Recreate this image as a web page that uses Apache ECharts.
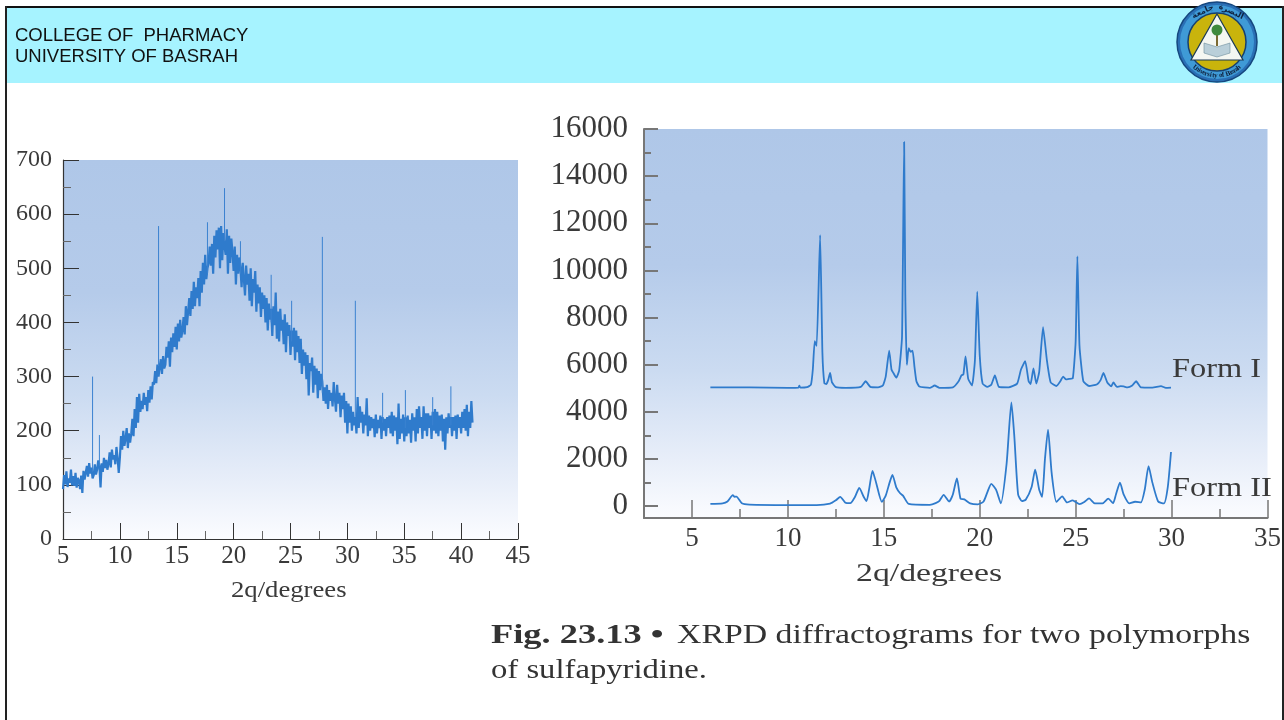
<!DOCTYPE html>
<html><head><meta charset="utf-8">
<style>html,body{margin:0;padding:0;background:#fff}#c{width:1284px;height:720px}</style>
<script src="https://cdn.jsdelivr.net/npm/echarts@6/dist/echarts.min.js"></script>
</head><body><div id="c"></div>
<script>
// Amorphous trace, one reading every 0.1 degree from 5.0 to 41.0 (noise band without the sharp spikes)
const amorphousStart = 5, amorphousStep = 0.1;
const amorphousY = [
92,118,101,125,96,112,104,128,99,116,
98,122,95,113,108,92,117,85,126,110,
108,135,115,140,121,132,112,118,138,119,
128,145,135,95,140,124,150,131,146,128,
139,160,132,165,147,155,138,170,150,122,
150,190,165,200,172,185,205,168,195,178,
195,222,190,240,205,262,215,268,235,255,
240,270,248,262,236,275,252,282,258,290,
285,310,288,322,300,318,332,305,338,315,
322,355,335,365,318,372,345,380,355,392,
350,398,365,405,372,385,410,378,430,395,
395,445,412,458,425,475,430,465,445,482,
430,495,455,510,470,525,480,500,510,540,
505,545,490,560,520,570,535,575,500,578,
515,565,540,525,572,490,560,510,555,530,
495,540,470,525,490,520,500,465,510,480,
450,505,470,490,440,500,430,480,455,495,
420,470,435,465,410,455,425,450,400,445,
385,435,405,425,375,430,395,455,370,420,
365,425,385,405,360,415,345,400,375,395,
340,385,355,390,330,385,345,375,325,370,
305,350,320,345,295,340,265,325,310,335,
270,320,285,315,260,310,275,305,290,255,
280,250,285,240,275,255,270,245,290,260,
235,285,250,270,225,265,240,270,215,255,
195,250,215,245,200,235,210,225,195,262,
205,245,215,235,195,230,210,260,190,228,
200,225,205,222,188,230,195,220,205,228,
185,225,200,222,190,225,205,228,195,235,
190,228,200,225,175,250,185,222,195,230,
180,225,190,228,195,220,178,232,200,225,
180,240,195,245,205,225,185,245,200,232,
190,232,205,228,185,235,200,240,195,235,
190,228,200,230,180,222,165,225,195,232,
205,225,190,225,200,228,185,230,205,225,
195,235,205,240,200,248,190,235,205,255,
215];
const spikeX    = [7.6,8.2,13.4,17.7,19.2,20.6,23.3,25.1,27.8,30.7,33.1,35.1,37.5,39.1];
const spikeTop  = [300,192,578,585,648,550,488,440,558,440,270,275,262,282];
const spikeBase = [125,135,320,490,550,490,400,365,270,225,215,205,210,210];

const formIX = [5.96,8,10,10.55,10.6,10.65,11,11.2,11.3,11.4,11.5,11.68,11.8,11.9,12,12.1,12.2,12.3,12.5,13,13.8,14.05,14.3,14.7,14.95,15.1,15.28,15.4,15.5,15.65,15.8,15.95,16.06,16.12,16.2,16.3,16.4,16.5,16.6,16.7,16.85,17.4,17.65,17.9,18.6,18.9,19.05,19.15,19.26,19.4,19.6,19.75,19.87,20,20.15,20.4,20.6,20.79,21,21.5,21.95,22.15,22.37,22.55,22.65,22.8,22.95,23.1,23.3,23.5,23.7,24,24.2,24.35,24.5,24.65,24.85,25,25.09,25.2,25.4,25.7,26.1,26.3,26.45,26.65,26.85,26.97,27.15,27.35,27.5,27.7,27.95,28.15,28.4,29,29.45,29.7,29.97];
const formIY = [5040,5040,5020,5030,5110,5030,5050,5150,5800,7000,6800,11500,6500,5220,5180,5350,5650,5250,5050,5020,5060,5300,5060,5040,5120,5500,6600,5800,5650,5450,5750,7200,15450,9000,6000,6700,6550,6600,5900,5300,5080,5020,5120,5020,5040,5300,5550,5600,6350,5400,5120,6200,9100,6400,5200,5060,5150,5550,5060,5040,5200,5800,6150,5300,5180,5850,5200,5700,7600,6200,5250,5100,5300,5500,5380,5400,5420,7000,10600,6800,5300,5100,5160,5350,5650,5250,5080,5250,5060,5090,5080,5040,5120,5300,5040,5030,5090,5020,5030];

const formIIX = [5.96,6.6,6.85,7.13,7.22,7.32,7.6,8,10,11.5,12.2,12.5,12.73,13,13.25,13.5,13.72,13.95,14.1,14.25,14.41,14.6,14.9,15.1,15.3,15.45,15.65,15.85,16,16.3,17.4,17.7,17.9,18.12,18.4,18.6,18.81,19,19.2,19.5,19.9,20.2,20.4,20.6,20.85,21.1,21.4,21.65,21.8,22,22.2,22.4,22.7,22.89,23.1,23.25,23.4,23.56,23.75,24,24.3,24.55,24.84,25.2,25.45,25.7,26,26.4,26.7,26.95,27.1,27.31,27.5,27.8,28.1,28.4,28.6,28.8,29,29.3,29.6,29.8,29.97];
const formIIY = [100,120,200,470,400,410,130,70,50,50,110,250,400,150,130,400,780,400,220,800,1500,1000,180,450,1000,1330,800,550,450,100,60,130,230,480,200,500,1180,320,290,120,80,200,600,950,700,120,1800,4400,3000,500,220,280,800,1550,700,400,2000,3250,1400,180,420,160,250,90,180,330,120,120,320,130,500,1000,500,120,190,160,700,1700,1000,200,120,800,2300];

const leftXTicks = [5,10,15,20,25,30,35,40,45];
const rightXLabels = [5,10,15,20,25,30,35];
const rightXMinor = [7.5,12.5,17.5,22.5,27.5,32.5];
const rightYLabels = [0,2000,4000,6000,8000,10000,12000,14000,16000];
const rightYMinor = [1000,3000,5000,7000,9000,11000,13000,15000];
const xTitle = '2q/degrees';
const headerLines = ['COLLEGE OF  PHARMACY','UNIVERSITY OF BASRAH'];
const formLabels = ['Form I','Form II'];

const amorphous = amorphousY.map((y,i)=>[+(amorphousStart+i*amorphousStep).toFixed(1),y]);
const spikes = spikeX.flatMap((x,i)=>[[x,spikeBase[i]],[x,spikeTop[i]],[x,'-']]);
const zip = (a,b)=>a.map((v,i)=>[v,b[i]]);

const serif = '"Liberation Serif"';
const ink = '#3a3a3a';
const plotFill = {type:'linear',x:0,y:0,x2:0,y2:1,colorStops:[
 {offset:0,color:'#afc7e8'},{offset:.35,color:'#b5cbea'},{offset:.62,color:'#cbdbf1'},{offset:.85,color:'#e8eef9'},{offset:1,color:'#fbfcff'}]};
const lineCol = '#2f7bcc';

function logo(){
  const cx=1217, cy=42, els=[];
  const circ=(r,fill,stroke,lw)=>({type:'circle',shape:{cx,cy,r},style:{fill,stroke,lineWidth:lw||0}});
  els.push(circ(40,'#2a6fb5','#15477f',1.5));
  els.push(circ(37,'#3f9ad6',null));
  els.push(circ(29,'#c9b40c','#17406f',1.5));
  els.push({type:'polygon',shape:{points:[[cx,cy-28],[cx+26,cy+18],[cx-26,cy+18]]},style:{fill:'#f4f7f2',stroke:'#1d3b54',lineWidth:1.2}});
  els.push({type:'polygon',shape:{points:[[cx-13,cy+1],[cx,cy+5],[cx+13,cy+1],[cx+13,cy+11],[cx,cy+15],[cx-13,cy+11]]},style:{fill:'#b9cfd9',stroke:'#6d8d9c',lineWidth:.6}});
  els.push({type:'rect',shape:{x:cx-1,y:cy-10,width:2,height:14},style:{fill:'#7b6a32'}});
  els.push({type:'circle',shape:{cx,cy:cy-12,r:5.5},style:{fill:'#3f8a3d'}});
  const s='University of Basrah', n=s.length;
  for(let i=0;i<n;i++){
    const a=(130-(i*80/(n-1)))*Math.PI/180;
    els.push({type:'text',x:cx+33.5*Math.cos(a),y:cy+33.5*Math.sin(a),rotation:(a-Math.PI/2)*-1,
      style:{text:s[i],fill:'#10233f',font:'bold 7px '+serif,align:'center',verticalAlign:'middle'}});
  }
  [['جامعة',-25],['البصرة',25]].forEach(([w,d])=>{
    const a=(d-90)*Math.PI/180;
    els.push({type:'text',x:cx+33.5*Math.cos(a),y:cy+33.5*Math.sin(a),rotation:-d*Math.PI/180,
      style:{text:w,fill:'#10233f',font:'bold 8px "DejaVu Sans"',align:'center',verticalAlign:'middle'}});
  });
  return els;
}

const tickLabel = (size)=>({fontFamily:serif,fontSize:size,color:ink});
const grids=[{left:63,top:160,width:455,height:379,show:true,borderWidth:0,backgroundColor:plotFill},
             {left:644,top:129,width:624,height:389,show:true,borderWidth:0,backgroundColor:plotFill}];
const aLineL={show:true,onZero:false,lineStyle:{color:'#333',width:1.2}};
const aLineR={show:true,onZero:false,lineStyle:{color:'#777',width:2}};

const option={
 animation:false,
 backgroundColor:'#fff',
 grid:grids,
 xAxis:[
  {gridIndex:0,type:'value',min:5,max:45,interval:5,axisLine:aLineL,splitLine:{show:false},
   axisTick:{show:true,inside:true,length:16,lineStyle:{color:'#333',width:1}},
   minorTick:{show:true,splitNumber:2,length:8,lineStyle:{color:'#666',width:1}},
   axisLabel:{...tickLabel(25),margin:5,formatter:v=>leftXTicks.includes(v)?String(v):'',showMinLabel:true,showMaxLabel:true}},
  {gridIndex:1,type:'value',position:'bottom',min:2.5,max:35,interval:2.5,axisLine:aLineR,splitLine:{show:false},
   axisTick:{show:true,inside:true,length:18,customValues:rightXLabels,lineStyle:{color:'#777',width:1.5}},
   axisLabel:{...tickLabel(27),margin:7,customValues:rightXLabels,formatter:v=>String(v)}},
  {gridIndex:1,type:'value',position:'bottom',min:2.5,max:35,interval:2.5,axisLine:{show:false,onZero:false},splitLine:{show:false},
   axisTick:{show:true,inside:true,length:9,customValues:rightXMinor,lineStyle:{color:'#777',width:1.5}},axisLabel:{show:false}}
 ],
 yAxis:[
  {gridIndex:0,type:'value',min:0,max:700,interval:100,axisLine:aLineL,splitLine:{show:false},
   axisTick:{show:true,inside:true,length:16,lineStyle:{color:'#333',width:1}},
   minorTick:{show:true,splitNumber:2,length:8,lineStyle:{color:'#666',width:1}},
   axisLabel:{...tickLabel(24),margin:11}},
  {gridIndex:1,type:'value',position:'left',min:-500,max:16000,interval:500,axisLine:aLineR,splitLine:{show:false},
   axisTick:{show:true,inside:true,length:14,customValues:rightYLabels,lineStyle:{color:'#777',width:2}},
   axisLabel:{...tickLabel(31),margin:16,padding:[8,0,0,0],customValues:rightYLabels,formatter:v=>String(v)}},
  {gridIndex:1,type:'value',position:'left',min:-500,max:16000,interval:500,axisLine:{show:false,onZero:false},splitLine:{show:false},
   axisTick:{show:true,inside:true,length:7,customValues:rightYMinor,lineStyle:{color:'#777',width:2}},axisLabel:{show:false}}
 ],
 series:[
  {name:'Amorphous',type:'line',xAxisIndex:0,yAxisIndex:0,data:amorphous,showSymbol:false,lineStyle:{color:lineCol,width:2.2}},
  {name:'Amorphous spikes',type:'line',xAxisIndex:0,yAxisIndex:0,data:spikes,showSymbol:false,connectNulls:false,lineStyle:{color:'#3b82d0',width:1}},
  {name:formLabels[0],type:'line',xAxisIndex:1,yAxisIndex:1,data:zip(formIX,formIY),showSymbol:false,smooth:0.15,lineStyle:{color:lineCol,width:1.8}},
  {name:formLabels[1],type:'line',xAxisIndex:1,yAxisIndex:1,data:zip(formIIX,formIIY),showSymbol:false,smooth:0.2,lineStyle:{color:lineCol,width:1.8}}
 ],
 graphic:[
  {type:'rect',z:-1,shape:{x:6,y:7,width:1277,height:76},style:{fill:'#a6f3ff'}},
  {type:'rect',shape:{x:5,y:6,width:1279,height:2},style:{fill:'#111'}},
  {type:'rect',shape:{x:5,y:6,width:2,height:714},style:{fill:'#222'}},
  {type:'rect',shape:{x:1282,y:6,width:2,height:714},style:{fill:'#222'}},
  {type:'text',x:15,y:36,style:{text:headerLines[0],font:'18.5px "Liberation Sans"',fill:'#111',verticalAlign:'middle'}},
  {type:'text',x:15,y:57,style:{text:headerLines[1],font:'18.5px "Liberation Sans"',fill:'#111',verticalAlign:'middle'}},
  ...logo(),
  {type:'text',x:231,y:591,scaleX:1.16,style:{text:xTitle,font:'23px '+serif,fill:ink,verticalAlign:'middle'}},
  {type:'text',x:856,y:574,scaleX:1.35,style:{text:xTitle,font:'25px '+serif,fill:ink,verticalAlign:'middle'}},
  {type:'text',x:1172,y:370,scaleX:1.2,style:{text:formLabels[0],font:'27px '+serif,fill:ink,verticalAlign:'middle'}},
  {type:'text',x:1172,y:489,scaleX:1.2,style:{text:formLabels[1],font:'27px '+serif,fill:ink,verticalAlign:'middle'}},
  {type:'text',x:491,y:636,scaleX:1.3,style:{text:'Fig. 23.13 •',font:'bold 28px '+serif,fill:'#333',verticalAlign:'middle'}},
  {type:'text',x:677,y:636,scaleX:1.206,style:{text:'XRPD diffractograms for two polymorphs',font:'28px '+serif,fill:'#333',verticalAlign:'middle'}},
  {type:'text',x:491,y:671,scaleX:1.167,style:{text:'of sulfapyridine.',font:'28px '+serif,fill:'#333',verticalAlign:'middle'}}
 ]
};
const chart=echarts.init(document.getElementById('c'),null,{renderer:'canvas',width:1284,height:720});
chart.setOption(option);
</script></body></html>
